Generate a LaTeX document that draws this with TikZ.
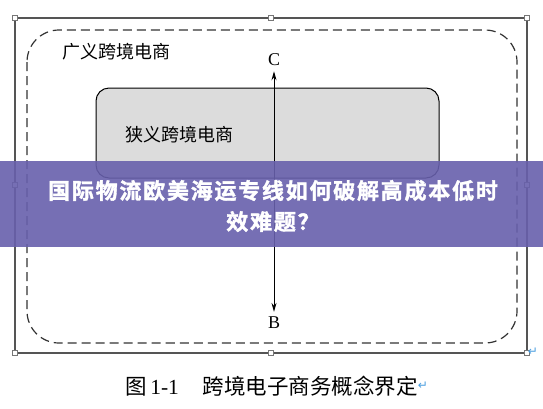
\documentclass[tikz,border=0pt]{standalone}
\usepackage{fontspec}
\setmainfont{Liberation Serif}
\newfontfamily\cjk{Noto Sans CJK SC}
\newfontfamily\cjkban{Noto Sans CJK SC}[UprightFont={* Bold},LetterSpace=8,FakeBold=1.6]
\newfontfamily\symfont{DejaVu Sans}
\usetikzlibrary{arrows.meta}
\definecolor{framegray}{HTML}{555555}
\definecolor{dashgray}{HTML}{333333}
\definecolor{boxgray}{HTML}{DCDCDC}
\definecolor{bannerpurple}{RGB}{104,96,172}
\definecolor{markblue}{HTML}{4A9EE0}
\tikzset{
  frameline/.style={draw=framegray, line width=1.4pt},
  handle/.style={draw=framegray!80, fill=white, line width=0.6pt, minimum size=5.5pt, inner sep=0pt, rectangle},
  dashbox/.style={draw=dashgray, line width=1.2pt, dash pattern=on 9pt off 5pt, rounded corners=32pt},
  narrowbox/.style={draw=black, line width=1pt, fill=boxgray, rounded corners=13pt},
  cjklabel/.style={font=\cjk\fontsize{18}{20}\selectfont, inner sep=0pt, anchor=west},
  axislabel/.style={font=\fontsize{18}{20}\selectfont, inner sep=0pt},
  bannertext/.style={font=\cjkban\fontsize{22}{31}\selectfont, text=white, align=center, inner sep=0pt},
  pmark/.style={font=\symfont\fontsize{12}{12}\selectfont, text=markblue, inner sep=0pt},
}
\begin{document}
\begin{tikzpicture}[x=1pt,y=-1pt]
\useasboundingbox (0,0) rectangle (543,408);
\fill[white] (0,0) rectangle (543,408);
% outer frame
\draw[frameline] (15,18) rectangle (527,353);
% dashed broad box
\draw[dashbox] (27,30) rectangle (517,343);
% narrow box
\draw[narrowbox] (96,88) rectangle (439,178);
% labels
\node[cjklabel] (broad) at (62,52) {广义跨境电商};
\node[cjklabel] (narrow) at (125,135) {狭义跨境电商};
\node[axislabel] (C) at (274,60) {C};
\node[axislabel] (B) at (274,323) {B};
\draw[line width=1pt, {Stealth[length=9pt,width=5pt]}-{Stealth[length=9pt,width=5pt]}] ([yshift=-5pt]C.south) -- ([yshift=5pt]B.north);
% handles
\foreach \p/\q in {15/18,271/18,527/18,15/185,527/185,15/353,271/353,527/353}
  \node[handle] at (\p,\q) {};
\node[pmark] (m1) at (533,352) {↵};
% banner
\fill[bannerpurple, opacity=0.9] (0,161) rectangle (543,247);
\node[bannertext] (title) at (273,206) {国际物流欧美海运专线如何破解高成本低时\\效难题？};
% caption
\node[font=\fontsize{21.5}{24}\selectfont, inner sep=0pt, anchor=west] (cap) at (125,386) {{\cjk 图}\,1-1\hspace{1.1em}{\cjk 跨境电子商务概念界定}};
\node[pmark, anchor=west] (m2) at (cap.east) {↵};
\end{tikzpicture}
\end{document}
